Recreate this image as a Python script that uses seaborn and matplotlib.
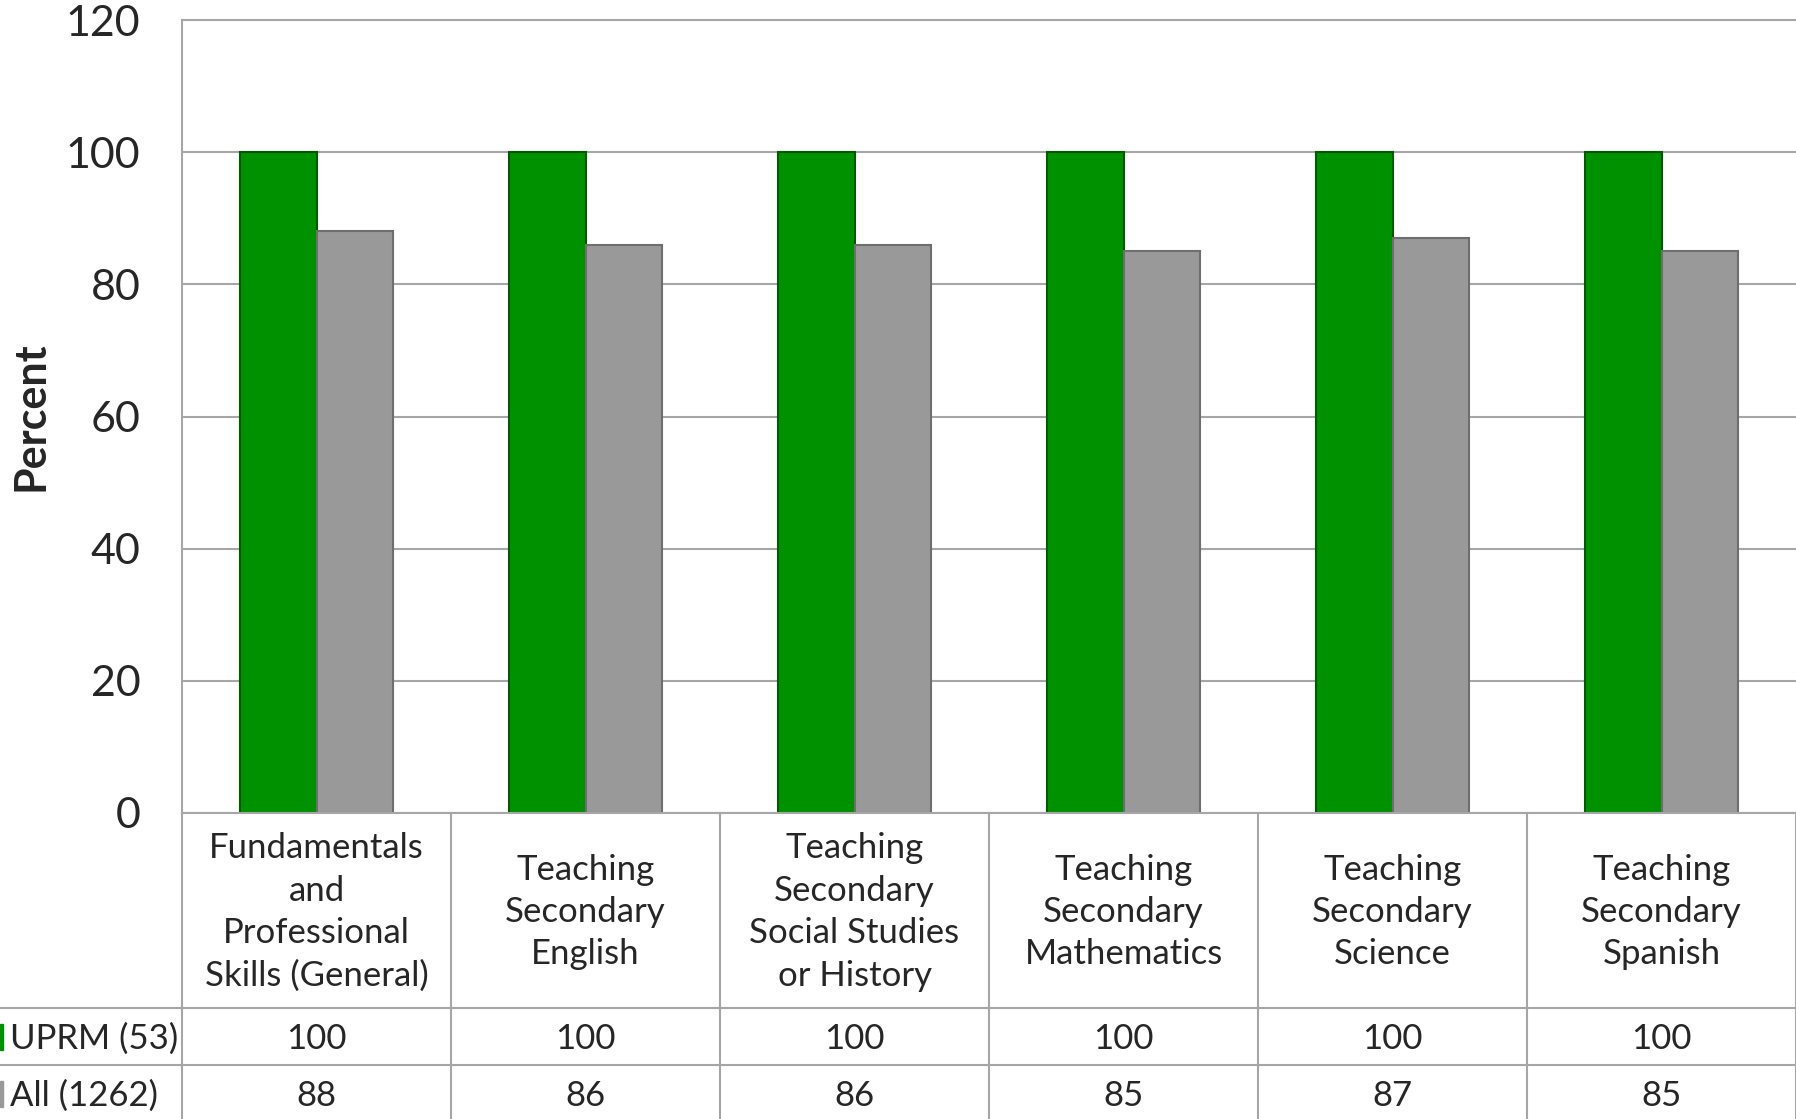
import numpy as np
import matplotlib.pyplot as plt
import pandas as pd
import seaborn as sns
from matplotlib.patches import Rectangle

# Data
categories = [
    "Fundamentals\nand\nProfessional\nSkills (General)",
    "Teaching\nSecondary\nEnglish",
    "Teaching\nSecondary\nSocial Studies\nor History",
    "Teaching\nSecondary\nMathematics",
    "Teaching\nSecondary\nScience",
    "Teaching\nSecondary\nSpanish",
]
uprm = [100, 100, 100, 100, 100, 100]
all_inst = [88, 86, 86, 85, 87, 85]
groups = ["UPRM (53)", "All (1262)"]
colors = ["#009100", "#999999"]
edges = ["#005a00", "#6e6e6e"]

df = pd.DataFrame({
    "category": categories * 2,
    "group": [groups[0]] * len(categories) + [groups[1]] * len(categories),
    "value": uprm + all_inst,
})

sns.set_style("white")
plt.rcParams["font.family"] = ["Lato", "DejaVu Sans"]

W, H = 1796, 1119
fig = plt.figure(figsize=(W / 100, H / 100), dpi=100)


def fx(px):
    return px / W


def fy(py):
    return (H - py) / H


ax = fig.add_axes([fx(182), fy(813), 1 - fx(182), fy(20) - fy(813)])

sns.barplot(data=df, x="category", y="value", hue="group", palette=colors,
            width=0.57, ax=ax, legend=False, saturation=1)

for i, cont in enumerate(ax.containers):
    for bar in cont:
        bar.set_edgecolor(edges[i])
        bar.set_linewidth(1.5)

ax.set_xlim(-0.5, len(categories) - 0.5)
ax.set_ylim(0, 120)
ax.set_yticks(range(0, 121, 20))
ax.yaxis.grid(True, color="#a6a6a6", linewidth=1.5)
ax.set_axisbelow(True)
ax.tick_params(axis="y", labelsize=31, length=0, pad=30)
ax.set_xticks([])
ax.set_xlabel("")
ax.set_ylabel("")
for s in ["left", "top", "bottom"]:
    ax.spines[s].set_color("#a6a6a6")
    ax.spines[s].set_linewidth(1.5)
ax.spines["right"].set_visible(False)

fig.text(fx(31), (fy(20) + fy(813)) / 2, "Percent", rotation=90,
         fontsize=31, fontweight="bold", ha="center", va="center")

# Data table below the plot
line_kw = dict(color="#a6a6a6", linewidth=1.5)
fig.add_artist(plt.Line2D([0, 1], [fy(1008), fy(1008)], **line_kw))
fig.add_artist(plt.Line2D([0, 1], [fy(1065), fy(1065)], **line_kw))

trans = ax.get_xaxis_transform()
for k in range(len(categories) + 1):
    xk = k - 0.5
    ax.plot([xk, xk], [0, -0.5], transform=trans, clip_on=False, **line_kw)


def ay(py):
    return (fy(py) - fy(813)) / (fy(20) - fy(813))


for i, cat in enumerate(categories):
    ax.text(i, ay(912), cat, transform=trans,
            ha="center", va="center", fontsize=25, linespacing=1.4)
    ax.text(i, ay(1039), str(uprm[i]),
            transform=trans, ha="center", va="center", fontsize=25)
    ax.text(i, ay(1096), str(all_inst[i]),
            transform=trans, ha="center", va="center", fontsize=25)

fig.text(fx(10), fy(1039), groups[0], ha="left", va="center", fontsize=25)
fig.text(fx(10), fy(1096), groups[1], ha="left", va="center", fontsize=25)
fig.add_artist(Rectangle((0, fy(1050)), fx(3), fy(1024) - fy(1050),
                         transform=fig.transFigure, color=colors[0]))
fig.add_artist(Rectangle((0, fy(1107)), fx(3), fy(1081) - fy(1107),
                         transform=fig.transFigure, color=colors[1]))

fig.savefig("out.png", dpi=100)
